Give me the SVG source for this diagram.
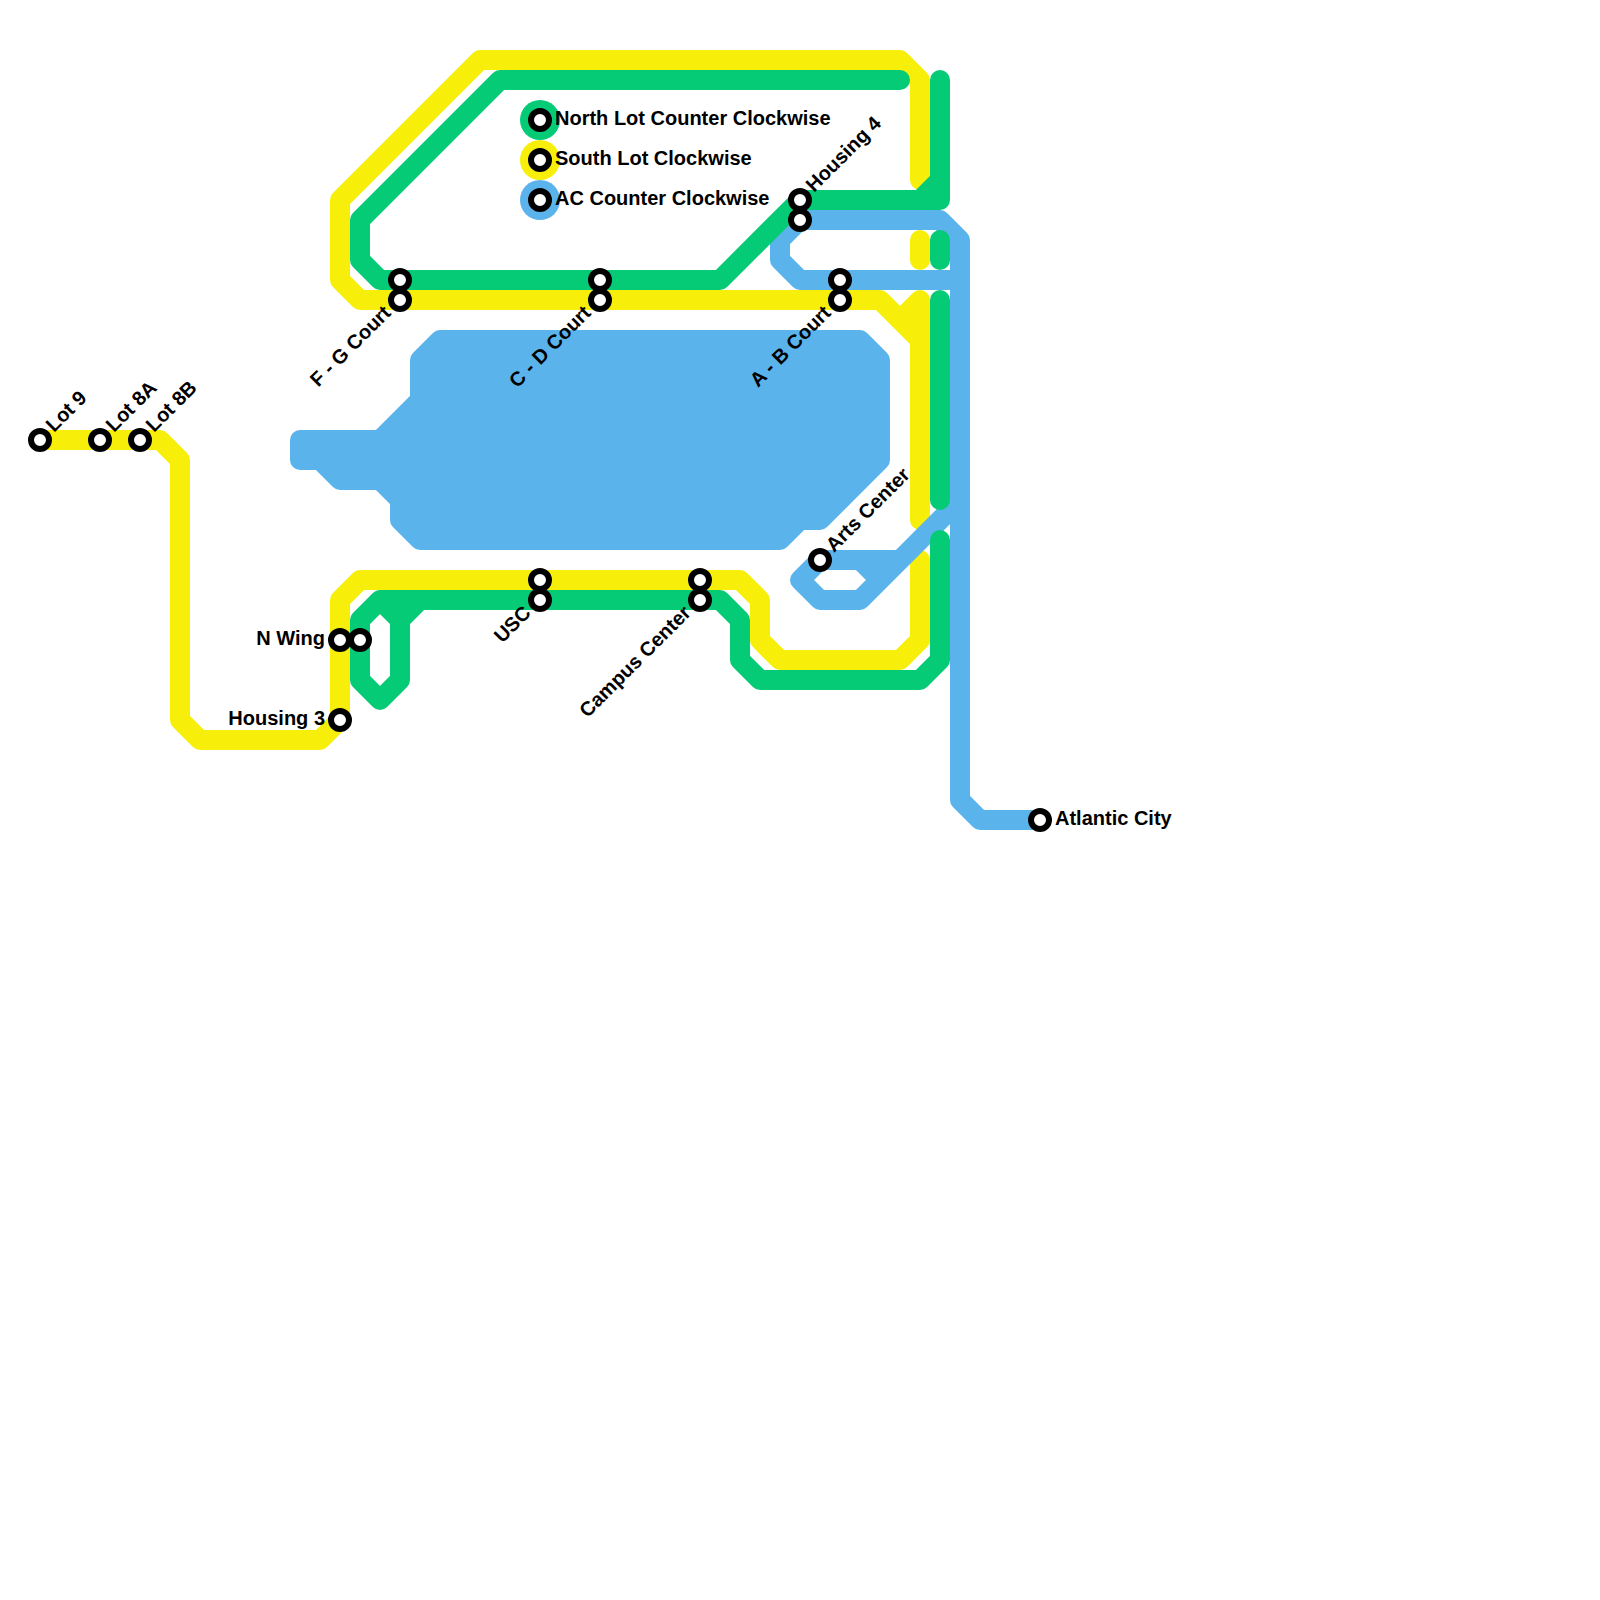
<svg xmlns="http://www.w3.org/2000/svg" width="1600" height="1600" viewBox="0 0 1600 1600">
<style>
.l{fill:none;stroke-width:20;stroke-linecap:round;stroke-linejoin:round}
.y{stroke:#f7ef09}.g{stroke:#06cb76}.b{stroke:#5bb3ec}
.s{fill:#fff;stroke:#000;stroke-width:6}
text{font-family:"Liberation Sans",Arial,sans-serif;font-weight:700;font-size:20px;fill:#000}
.e{text-anchor:end}
</style>
<rect width="1600" height="1600" fill="#fff"/>
<g id="connectors">
<g id="line-south-lot">
<path class="l y" d="M40 440H160L180 460V720L200 740H320L340 720V600L360 580H740L760 600V640L780 660H900L920 640V560"/>
<path class="l y" d="M920 180V80L900 60H480L340 200V280L360 300H880L920 340"/>
<path class="l y" d="M920 240V260"/>
<path class="l y" d="M920 520V300L900 320"/>
</g>
<g id="line-ac">
<path class="l b" d="M300 440H380L420 400V360L440 340H860L880 360V460L820 520H800L780 540H420L400 520V500L380 480H340L320 460H300Z" style="fill:#5bb3ec"/>
<path class="l b" d="M1040 820H980L960 800V240L940 220H800L780 240V260L800 280H960"/>
<path class="l b" d="M960 500L860 600H820L800 580L820 560H900M860 560L880 580"/>
</g>
<g id="line-north-lot">
<path class="l g" d="M900 80H500L360 220V260L380 280H720L800 200H940V80M920 200L940 180"/>
<path class="l g" d="M940 240V260"/>
<path class="l g" d="M940 300V500"/>
<path class="l g" d="M940 540V660L920 680H760L740 660V620L720 600H380L360 620V680L380 700L400 680V620L420 600M380 600L400 620"/>
</g>
</g>
<g id="legend">
<circle cx="540" cy="120" r="20" fill="#06cb76"/>
<circle cx="540" cy="160" r="20" fill="#f7ef09"/>
<circle cx="540" cy="200" r="20" fill="#5bb3ec"/>
<circle class="s" cx="540" cy="120" r="9"/>
<circle class="s" cx="540" cy="160" r="9"/>
<circle class="s" cx="540" cy="200" r="9"/>
<text x="555" y="125">North Lot Counter Clockwise</text>
<text x="555" y="165">South Lot Clockwise</text>
<text x="555" y="205">AC Counter Clockwise</text>
</g>
<g id="lot-9"><circle class="s" cx="40" cy="440" r="9"/><text transform="translate(54 433) rotate(-45)">Lot 9</text></g>
<g id="lot-8a"><circle class="s" cx="100" cy="440" r="9"/><text transform="translate(114 433) rotate(-45)">Lot 8A</text></g>
<g id="lot-8b"><circle class="s" cx="140" cy="440" r="9"/><text transform="translate(154 433) rotate(-45)">Lot 8B</text></g>
<g id="n-wing"><circle class="s" cx="340" cy="640" r="9"/><circle class="s" cx="360" cy="640" r="9"/><text class="e" x="325" y="645">N Wing</text></g>
<g id="housing-3"><circle class="s" cx="340" cy="720" r="9"/><text class="e" x="325" y="725">Housing 3</text></g>
<g id="f-g-court"><circle class="s" cx="400" cy="280" r="9"/><circle class="s" cx="400" cy="300" r="9"/><text class="e" transform="translate(392 314) rotate(-45)">F - G Court</text></g>
<g id="c-d-court"><circle class="s" cx="600" cy="280" r="9"/><circle class="s" cx="600" cy="300" r="9"/><text class="e" transform="translate(592 314) rotate(-45)">C - D Court</text></g>
<g id="a-b-court"><circle class="s" cx="840" cy="280" r="9"/><circle class="s" cx="840" cy="300" r="9"/><text class="e" transform="translate(832 314) rotate(-45)">A - B Court</text></g>
<g id="housing-4"><circle class="s" cx="800" cy="200" r="9"/><circle class="s" cx="800" cy="220" r="9"/><text transform="translate(814 193) rotate(-45)">Housing 4</text></g>
<g id="arts-center"><circle class="s" cx="820" cy="560" r="9"/><text transform="translate(834 553) rotate(-45)">Arts Center</text></g>
<g id="usc"><circle class="s" cx="540" cy="580" r="9"/><circle class="s" cx="540" cy="600" r="9"/><text class="e" transform="translate(532 614) rotate(-45)">USC</text></g>
<g id="campus-center"><circle class="s" cx="700" cy="580" r="9"/><circle class="s" cx="700" cy="600" r="9"/><text class="e" transform="translate(692 614) rotate(-45)">Campus Center</text></g>
<g id="atlantic-city"><circle class="s" cx="1040" cy="820" r="9"/><text x="1055" y="825">Atlantic City</text></g>
</svg>
